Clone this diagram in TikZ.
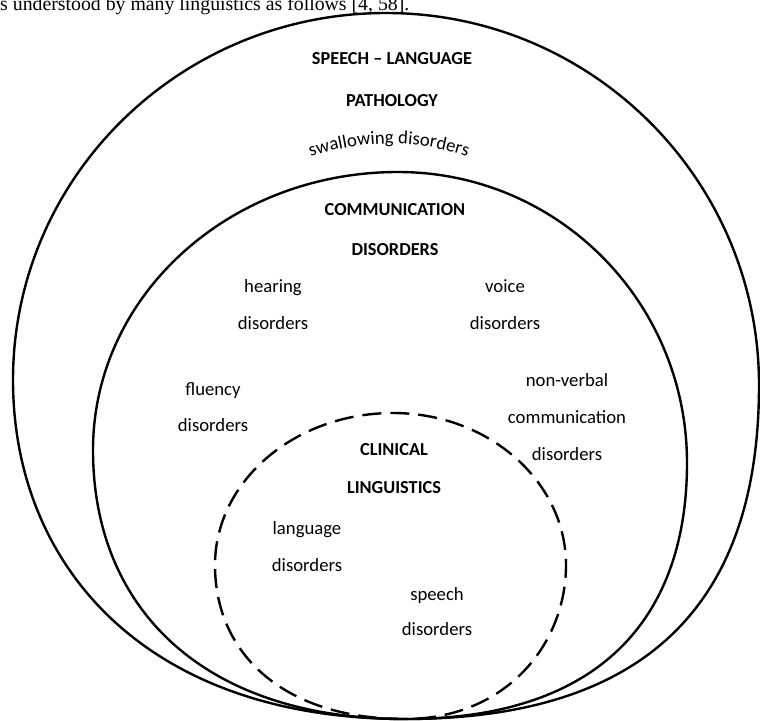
\documentclass[tikz,border=0pt]{standalone}
\usepackage{fontspec}
\setmainfont{Carlito}
\newfontfamily\bodyserif{Liberation Serif}
\usepackage{tikz}
\usetikzlibrary{decorations.text}
\tikzset{
    x=1pt, y=-1pt,
    ring/.style = {line width=2.4pt, black},
    dashed ring/.style = {ring, dash pattern=on 19pt off 9pt},
    head node/.style = {align=center, inner sep=0, font=\bfseries\fontsize{18.3}{42}\selectfont},
    item node/.style = {align=center, inner sep=0, font=\fontsize{18.7}{37}\selectfont}
}

\begin{document}
\begin{tikzpicture}
    \useasboundingbox (0,0) rectangle (760,720);
    \node[anchor=base west, inner sep=0, font=\bodyserif\fontsize{19.8}{22}\selectfont] (intro) at (0,10) {s understood by many linguistics as follows [4, 58].};
    % outer ring
    \draw[ring] (405,719) .. controls (145,719) and (13,565) .. (13,380)
        .. controls (13,177) and (180,13) .. (386,13)
        .. controls (592,13) and (759,180) .. (759,385)
        .. controls (759,585) and (665,719) .. (405,719) -- cycle;
    % middle ring
    \draw[ring] (405,719) .. controls (205,719) and (93,610) .. (93,450)
        .. controls (93,296) and (229,172) .. (398,172)
        .. controls (558,172) and (687,302) .. (687,463)
        .. controls (687,613) and (605,719) .. (405,719) -- cycle;
    % inner ring
    \draw[dashed ring] (405,719) .. controls (285,719) and (215,655) .. (215,565)
        .. controls (215,481) and (295,413) .. (393,413)
        .. controls (488,413) and (566,481) .. (566,565)
        .. controls (566,645) and (505,719) .. (405,719) -- cycle;
    \node[head node] (slp) at (392,80) {SPEECH -- LANGUAGE\\PATHOLOGY};
    \path[decorate, decoration={text along path, text align=center, text={|\fontsize{18.7}{20}\selectfont|swallowing disorders}}] (298,161) .. controls (360,138) and (420,138) .. (480,161);
    \node[head node, font=\bfseries\fontsize{18.3}{40}\selectfont] (cd) at (395,230) {COMMUNICATION\\DISORDERS};
    \node[item node] (hear) at (273,305) {hearing\\disorders};
    \node[item node] (voice) at (505,305) {voice\\disorders};
    \node[item node, font=\fontsize{18.7}{36}\selectfont] (fluency) at (213,407) {fluency\\disorders};
    \node[item node] (nonverbal) at (567,417) {non-verbal\\communication\\disorders};
    \node[head node, font=\bfseries\fontsize{18.3}{38}\selectfont] (cl) at (394,469) {CLINICAL\\LINGUISTICS};
    \node[item node] (lang) at (307,547) {language\\disorders};
    \node[item node, font=\fontsize{18.7}{35}\selectfont] (speech) at (437,612) {speech\\disorders};
\end{tikzpicture}
\end{document}
